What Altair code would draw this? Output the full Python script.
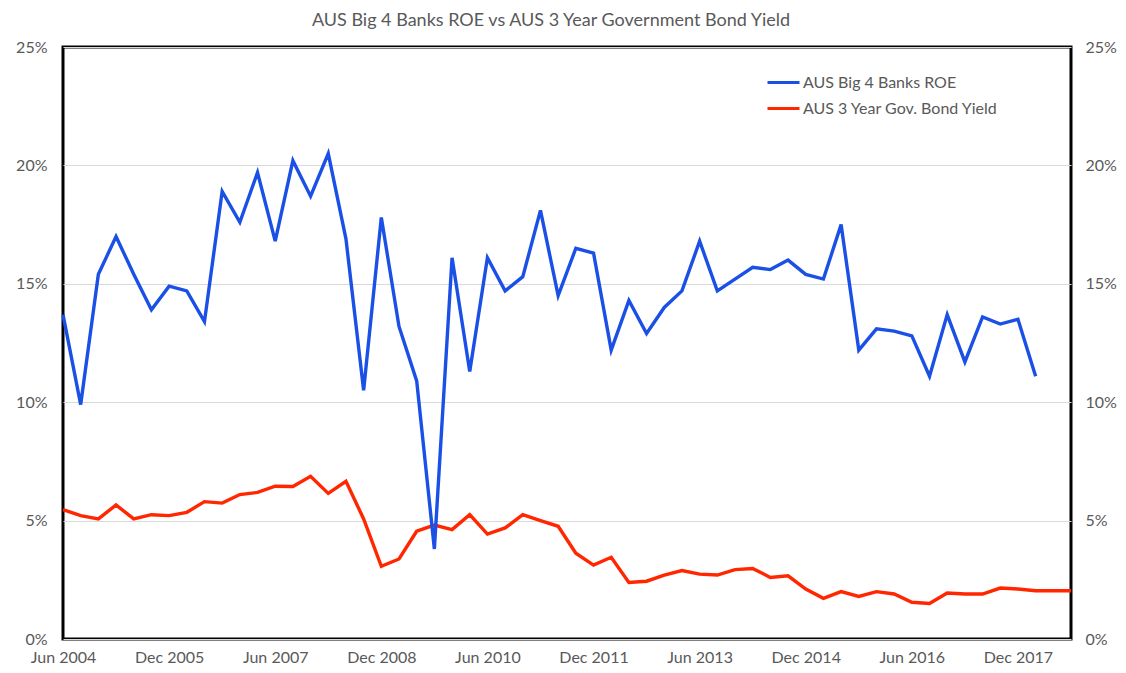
import altair as alt
import pandas as pd

months = ["Mar", "Jun", "Sep", "Dec"]
quarters = []
for i in range(58):
    q = 1 + i  # start at Jun 2004
    quarters.append(f"{months[q % 4]} {2004 + q // 4}")

tick_labels = ["Jun 2004", "Dec 2005", "Jun 2007", "Dec 2008", "Jun 2010",
               "Dec 2011", "Jun 2013", "Dec 2014", "Jun 2016", "Dec 2017"]

roe = [13.7, 9.9, 15.4, 17.0, 15.4, 13.9, 14.9, 14.7, 13.4, 18.9,
       17.6, 19.7, 16.8, 20.2, 18.7, 20.5, 16.9, 10.5, 17.8, 13.2,
       10.9, 3.8, 16.1, 11.3, 16.1, 14.7, 15.3, 18.1, 14.5, 16.5,
       16.3, 12.2, 14.3, 12.9, 14.0, 14.7, 16.8, 14.7, 15.2, 15.7,
       15.6, 16.0, 15.4, 15.2, 17.5, 12.2, 13.1, 13.0, 12.8, 11.1,
       13.7, 11.7, 13.6, 13.3, 13.5, 11.1]

bond = [5.46, 5.21, 5.07, 5.66, 5.07, 5.25, 5.21, 5.35, 5.80, 5.74,
        6.10, 6.19, 6.45, 6.44, 6.87, 6.15, 6.66, 5.07, 3.07, 3.38,
        4.55, 4.81, 4.62, 5.25, 4.43, 4.69, 5.25, 5.00, 4.76, 3.62,
        3.12, 3.45, 2.39, 2.44, 2.70, 2.89, 2.74, 2.70, 2.93, 2.98,
        2.60, 2.67, 2.11, 1.72, 2.00, 1.80, 2.00, 1.90, 1.55, 1.50,
        1.94, 1.90, 1.90, 2.15, 2.11, 2.04, 2.04, 2.04]

ROE_NAME = "AUS Big 4 Banks ROE"
BOND_NAME = "AUS 3 Year Gov. Bond Yield"

df_roe = pd.DataFrame({"i": list(range(len(roe))), "q": quarters[:len(roe)],
                       "v": roe, "s": ROE_NAME})
df_bond = pd.DataFrame({"i": list(range(len(bond))), "q": quarters,
                        "v": bond, "s": BOND_NAME})

tick_idx = [quarters.index(t) for t in tick_labels]
label_js = "[" + ",".join(f"'{q}'" for q in quarters) + "]"

GRAY = "#595959"
FONT = "Lato"

x_enc = alt.X("i:Q", title=None,
              scale=alt.Scale(domain=[0, len(quarters) - 1], nice=False, zero=False),
              axis=alt.Axis(values=tick_idx, labelExpr=f"{label_js}[datum.value]",
                            labelAngle=0, labelPadding=10, grid=False,
                            labelOverlap=False, labelFlush=False))

y_scale = alt.Scale(domain=[0, 25])
y_left = alt.Y("v:Q", scale=y_scale, title=None,
               axis=alt.Axis(values=[0, 5, 10, 15, 20, 25], orient="left",
                             labelExpr="datum.value + '%'", grid=True,
                             gridColor="#d9d9d9", gridWidth=1, labelPadding=16))
y_right = alt.Y("v:Q", scale=y_scale, title=None,
                axis=alt.Axis(values=[0, 5, 10, 15, 20, 25], orient="right",
                              labelExpr="datum.value + '%'", grid=False,
                              labelPadding=14))

color_scale = alt.Scale(domain=[ROE_NAME, BOND_NAME], range=["#1a50e6", "#ff2600"])
legend = alt.Legend(title=None, orient="none", legendX=703, legendY=18,
                    symbolType="stroke", symbolSize=1024,
                    symbolStrokeWidth=3, labelOffset=2, labelLimit=400,
                    rowPadding=-4, padding=0,
                    labelFont=FONT, labelFontSize=16, labelColor=GRAY)

red = alt.Chart(df_bond).mark_line(strokeWidth=3.4).encode(
    x=x_enc, y=y_left,
    color=alt.Color("s:N", scale=color_scale, legend=legend))
blue = alt.Chart(df_roe).mark_line(strokeWidth=3.4).encode(
    x=x_enc, y=y_left,
    color=alt.Color("s:N", scale=color_scale, legend=legend))

right_axis = alt.Chart(df_bond).mark_line(opacity=0).encode(x=x_enc, y=y_right)

chart = alt.layer(alt.layer(red, blue), right_axis).resolve_scale(
    y="independent"
).properties(
    width=1008, height=592,
    autosize=alt.AutoSizeParams(type="none"),
    padding={"left": 55, "top": 39, "right": 47, "bottom": 26},
    title=alt.TitleParams("AUS Big 4 Banks ROE vs AUS 3 Year Government Bond Yield",
                          font=FONT, fontSize=18, fontWeight="normal", color=GRAY,
                          anchor="middle", dx=-16, offset=9),
).configure_view(
    stroke="black", strokeWidth=3
).configure_axis(
    labelFont=FONT, labelFontSize=16, labelColor=GRAY, ticks=False, domain=False
)

chart.save("out.html", embed_options={"renderer": "svg", "actions": False})
